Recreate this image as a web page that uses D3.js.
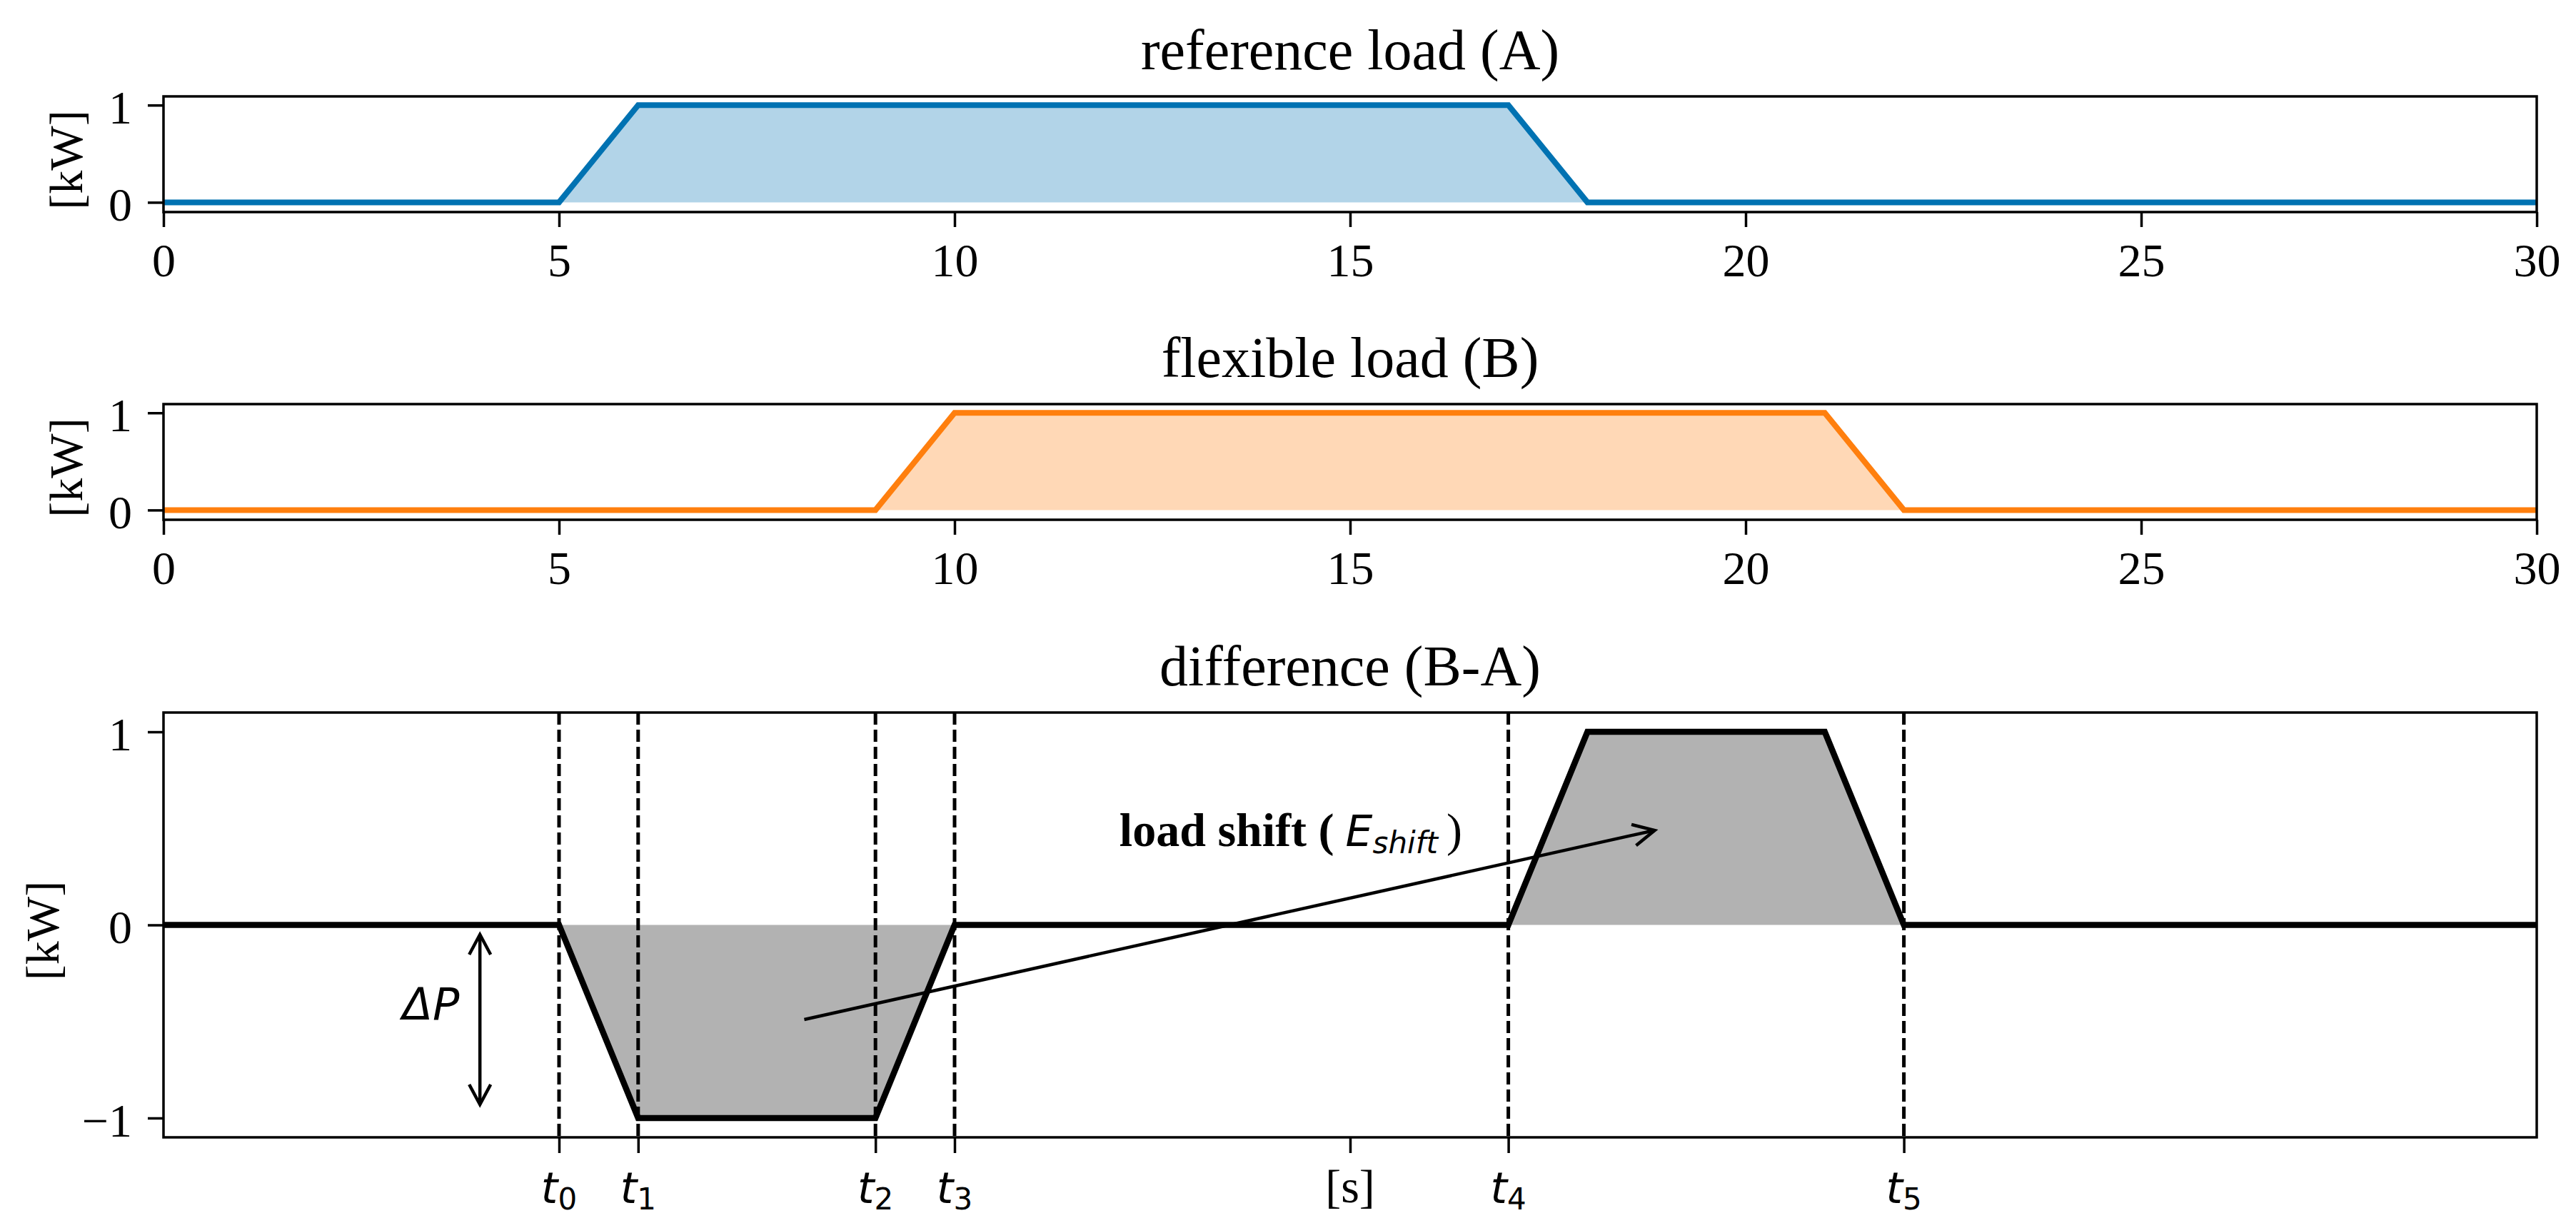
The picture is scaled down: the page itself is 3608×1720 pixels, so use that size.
<!DOCTYPE html>
<html><head><meta charset="utf-8">
<script src="https://cdn.jsdelivr.net/npm/d3@7"></script>
<style>html,body{margin:0;padding:0;background:#fff}svg{display:block}</style>
</head><body>
<script>
// ---------- data ----------
const xTicks = [0, 5, 10, 15, 20, 25, 30];
const loadTicks = [0, 1];
const diffTicks = [-1, 0, 1];
const refX = [0, 5, 6, 17, 18, 30];
const refY = [0, 0, 1, 1, 0, 0];
const flexX = [0, 9, 10, 21, 22, 30];
const flexY = [0, 0, 1, 1, 0, 0];
const diffX = [0, 5, 6, 9, 10, 17, 18, 21, 22, 30];
const diffY = [0, 0, -1, -1, 0, 0, 1, 1, 0, 0];
const markerTimes = [5, 6, 9, 10, 17, 22];
const markerSubs = ["0", "1", "2", "3", "4", "5"];
const secondsTick = [15];
const secondsLabel = "[s]";
const titles = ["reference load (A)", "flexible load (B)", "difference (B-A)"];
const yLabel = "[kW]";
const deltaPArrow = [4, -0.05, -0.93];      // x, y from, y to
const deltaPLabel = [3.38, -0.49];
const shiftFrom = [8.1, -0.49];
const shiftTo = [18.85, 0.49];
const shiftLabel = [14.25, 0.41];

// ---------- layout ----------
const W = 3608, H = 1720;
const xL = 229, xR = 3553;
const panels = [
  {top: 135, bottom: 297, dom: [-0.1, 1.09], ticks: loadTicks, labelX: 115},
  {top: 566, bottom: 728, dom: [-0.1, 1.09], ticks: loadTicks, labelX: 115},
  {top: 998, bottom: 1593, dom: [-1.1, 1.1], ticks: diffTicks, labelX: 82}
];
const SERIF = "'Liberation Serif', 'DejaVu Serif', serif";
const SANS = "'DejaVu Sans', sans-serif";
const TICK = 66, TITLE = 80, MATH = 60, SUB = 42;

const svg = d3.select("body").append("svg").attr("width", W).attr("height", H)
  .style("background", "#fff");

const x = d3.scaleLinear().domain([0, 30]).range([xL, xR]);
const fmt = d => d < 0 ? "\u2212" + Math.abs(d) : String(d);

function styleAxis(g) {
  g.attr("font-family", SERIF).attr("font-size", TICK);
  g.select(".domain").remove();
  g.selectAll(".tick line").attr("stroke", "#000").attr("stroke-width", 3.5);
  g.selectAll(".tick text").attr("fill", "#000");
}

panels.forEach((p, i) => {
  p.y = d3.scaleLinear().domain(p.dom).range([p.bottom, p.top]);
  p.g = svg.append("g");
  const cid = "clip" + i;
  svg.append("clipPath").attr("id", cid).append("rect")
    .attr("x", xL).attr("y", p.top).attr("width", xR - xL).attr("height", p.bottom - p.top);
  p.clip = "url(#" + cid + ")";
});

function drawSeries(p, xs, vs, color, fillColor, fillOpacity, lw) {
  const pts = xs.map((d, i) => [d, vs[i]]);
  const area = d3.area().x(d => x(d[0])).y0(p.y(0)).y1(d => p.y(d[1]));
  const line = d3.line().x(d => x(d[0])).y(d => p.y(d[1]));
  p.g.append("path").datum(pts).attr("d", area).attr("fill", fillColor)
    .attr("fill-opacity", fillOpacity).attr("clip-path", p.clip);
  p.lineG = p.g.append("g").attr("clip-path", p.clip);
  return () => p.lineG.append("path").datum(pts).attr("d", line).attr("fill", "none")
    .attr("stroke", color).attr("stroke-width", lw).attr("stroke-linejoin", "miter");
}

// panel 1 & 2
drawSeries(panels[0], refX, refY, "#0072b2", "#0072b2", 0.3, 8)();
drawSeries(panels[1], flexX, flexY, "#ff7f0e", "#ff7f0e", 0.3, 8)();

// panel 3
const p3 = panels[2];
const drawDiffLine = drawSeries(p3, diffX, diffY, "#000", "#000", 0.3, 8.5);
p3.g.append("g").selectAll("line").data(markerTimes).join("line")
  .attr("x1", d => x(d)).attr("x2", d => x(d))
  .attr("y1", p3.top).attr("y2", p3.bottom)
  .attr("stroke", "#000").attr("stroke-width", 5)
  .attr("stroke-dasharray", "17 7");
drawDiffLine();

// arrows
function head(g, tip, from, len, half) {
  const dx = tip[0] - from[0], dy = tip[1] - from[1];
  const L = Math.hypot(dx, dy), ux = dx / L, uy = dy / L;
  const bx = tip[0] - ux * len, by = tip[1] - uy * len;
  const px = -uy * half, py = ux * half;
  g.append("path")
    .attr("d", `M${bx + px},${by + py}L${tip[0]},${tip[1]}L${bx - px},${by - py}`)
    .attr("fill", "none").attr("stroke", "#000").attr("stroke-width", 4.5)
    .attr("stroke-linejoin", "miter");
}
const ag = p3.g.append("g");
{
  const a = [x(deltaPArrow[0]), p3.y(deltaPArrow[1])];
  const b = [x(deltaPArrow[0]), p3.y(deltaPArrow[2])];
  ag.append("line").attr("x1", a[0]).attr("y1", a[1]).attr("x2", b[0]).attr("y2", b[1])
    .attr("stroke", "#000").attr("stroke-width", 4.5);
  head(ag, a, b, 28, 15);
  head(ag, b, a, 28, 15);
  const s = [x(shiftFrom[0]), p3.y(shiftFrom[1])];
  const t = [x(shiftTo[0]), p3.y(shiftTo[1])];
  ag.append("line").attr("x1", s[0]).attr("y1", s[1]).attr("x2", t[0]).attr("y2", t[1])
    .attr("stroke", "#000").attr("stroke-width", 4.5);
  head(ag, t, s, 30, 15);
}
// ΔP label
{
  const tx = p3.g.append("text").attr("x", x(deltaPLabel[0])).attr("y", p3.y(deltaPLabel[1]))
    .attr("text-anchor", "middle").attr("font-family", SANS).attr("font-size", MATH + 2).attr("fill", "#000");
  tx.append("tspan").attr("font-style", "italic").text("\u0394");
  tx.append("tspan").attr("font-style", "italic").text("P");
}
// load shift label
{
  const tx = p3.g.append("text").attr("x", x(shiftLabel[0])).attr("y", p3.y(shiftLabel[1]))
    .attr("text-anchor", "middle").attr("fill", "#000");
  tx.append("tspan").attr("font-family", SERIF).attr("font-weight", "bold").attr("font-size", TICK)
    .text("load shift (");
  tx.append("tspan").attr("dx", 16).attr("font-family", SANS).attr("font-style", "italic")
    .attr("font-size", MATH).text("E");
  tx.append("tspan").attr("dy", 10).attr("font-family", SANS).attr("font-style", "italic")
    .attr("font-size", SUB).text("shift");
  tx.append("tspan").attr("dy", -10).attr("dx", 12).attr("font-family", SERIF)
    .attr("font-size", TICK).text(")");
}

// axes, frames, titles, labels
panels.forEach((p, i) => {
  const cx = (xL + xR) / 2;
  const ya = svg.append("g").attr("transform", `translate(${xL},0)`)
    .call(d3.axisLeft(p.y).tickValues(p.ticks).tickSize(22).tickPadding(22).tickFormat(fmt));
  styleAxis(ya);
  ya.selectAll(".tick text").attr("dy", "0.38em");
  const xa = svg.append("g").attr("transform", `translate(0,${p.bottom})`);
  if (i < 2) {
    xa.call(d3.axisBottom(x).tickValues(xTicks).tickSize(21).tickPadding(22).tickFormat(d => String(d)));
    styleAxis(xa);
  } else {
    xa.call(d3.axisBottom(x).tickValues(secondsTick.concat(markerTimes)).tickSize(22).tickPadding(22)
      .tickFormat(() => ""));
    styleAxis(xa);
    xa.selectAll(".tick text").remove();
    const lg = svg.append("g");
    lg.append("text").attr("x", x(secondsTick[0])).attr("y", p.bottom + 22 + 22).attr("dy", "0.71em")
      .attr("text-anchor", "middle").attr("font-family", SERIF).attr("font-size", TICK).attr("fill", "#000")
      .text(secondsLabel);
    markerTimes.forEach((t, k) => {
      const tx = lg.append("text").attr("x", x(t)).attr("y", p.bottom + 92)
        .attr("text-anchor", "middle").attr("font-family", SANS).attr("font-size", MATH).attr("fill", "#000");
      tx.append("tspan").attr("font-style", "italic").text("t");
      tx.append("tspan").attr("dy", 9).attr("font-size", SUB).text(markerSubs[k]);
    });
  }
  svg.append("rect").attr("x", xL).attr("y", p.top).attr("width", xR - xL).attr("height", p.bottom - p.top)
    .attr("fill", "none").attr("stroke", "#000").attr("stroke-width", 3.5);
  svg.append("text").attr("x", cx).attr("y", p.top - 38).attr("text-anchor", "middle")
    .attr("font-family", SERIF).attr("font-size", TITLE).attr("fill", "#000").text(titles[i]);
  const my = (p.top + p.bottom) / 2 + 8;
  svg.append("text").attr("transform", `translate(${p.labelX},${my}) rotate(-90)`)
    .attr("text-anchor", "middle").attr("font-family", SERIF).attr("font-size", TICK).attr("fill", "#000")
    .text(yLabel);
});
</script>
</body></html>
